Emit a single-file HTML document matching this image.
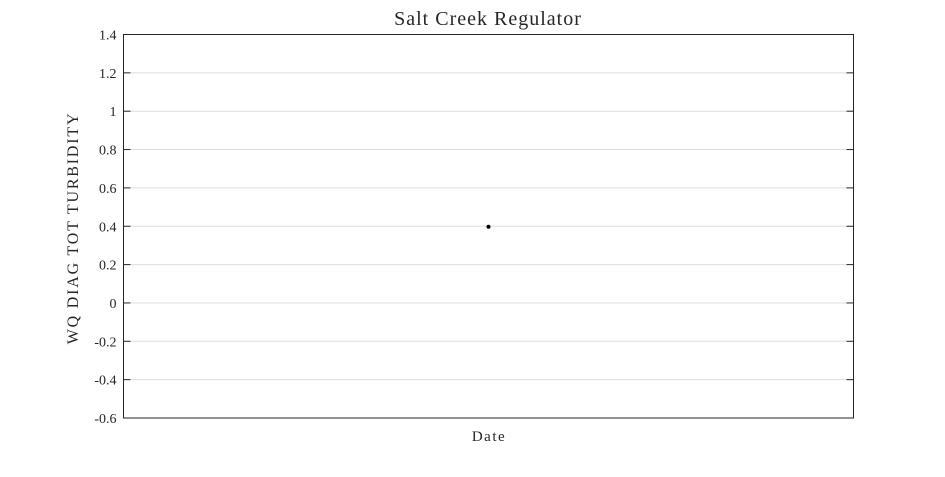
<!DOCTYPE html>
<html><head><meta charset="utf-8"><style>
body{margin:0;background:#fff;}
svg text{font-family:"Liberation Serif",serif;fill:#262626;}
</style></head><body>
<svg id="chart" width="945" height="472" xmlns="http://www.w3.org/2000/svg">
<rect width="945" height="472" fill="#fff"/>
<text x="488" y="25" font-size="20" letter-spacing="1" text-anchor="middle">Salt Creek Regulator</text>
<g id="grid"></g>
<g id="ticks"></g>
<rect x="123.5" y="34.5" width="730" height="383.5" fill="none" stroke="#262626" stroke-width="1"/>
<g id="points"></g>
<text x="489" y="441" font-size="15" letter-spacing="1.5" text-anchor="middle">Date</text>
<text transform="translate(78,228) rotate(-90)" font-size="16" letter-spacing="1.8" text-anchor="middle">WQ DIAG TOT TURBIDITY</text>
</svg>
<script>
const yTicks=[1.4,1.2,1,0.8,0.6,0.4,0.2,0,-0.2,-0.4,-0.6];
const pointX=[0.5];
const pointY=[0.4];
const L=123.5,R=853.5,T=34.5,B=418;
const yMin=-0.6,yMax=1.4;
function ys(v){return B-(v-yMin)/(yMax-yMin)*(B-T);}
function xs(f){return L+f*(R-L);}
const NS="http://www.w3.org/2000/svg";
const grid=document.getElementById('grid'),ticks=document.getElementById('ticks'),pts=document.getElementById('points');
function mk(tag,attrs,parent){const e=document.createElementNS(NS,tag);for(const k in attrs)e.setAttribute(k,attrs[k]);parent.appendChild(e);return e;}
yTicks.forEach(v=>{
  const y=ys(v);
  if(v!==yMax&&v!==yMin){
    const g=mk('line',{x1:L,x2:R,y1:y,y2:y,stroke:'#dedede','stroke-width':1},grid);
    
    
  }
  const t1=mk('line',{x1:L,x2:L+7,y1:y,y2:y,stroke:'#262626','stroke-width':1},ticks);
  
  
  const t2=mk('line',{x1:R-7,x2:R,y1:y,y2:y,stroke:'#262626','stroke-width':1},ticks);
  
  
  const lb=mk('text',{x:L-7,y:y+5,'font-size':14,'text-anchor':'end'},ticks);
  lb.textContent=String(v);
  
  
});
pointY.forEach((v,i)=>{
  const c=mk('circle',{cx:xs(pointX[i]),cy:ys(v)+0.5,r:2,fill:'#000'},pts);
  
  
});
</script>
</body></html>
